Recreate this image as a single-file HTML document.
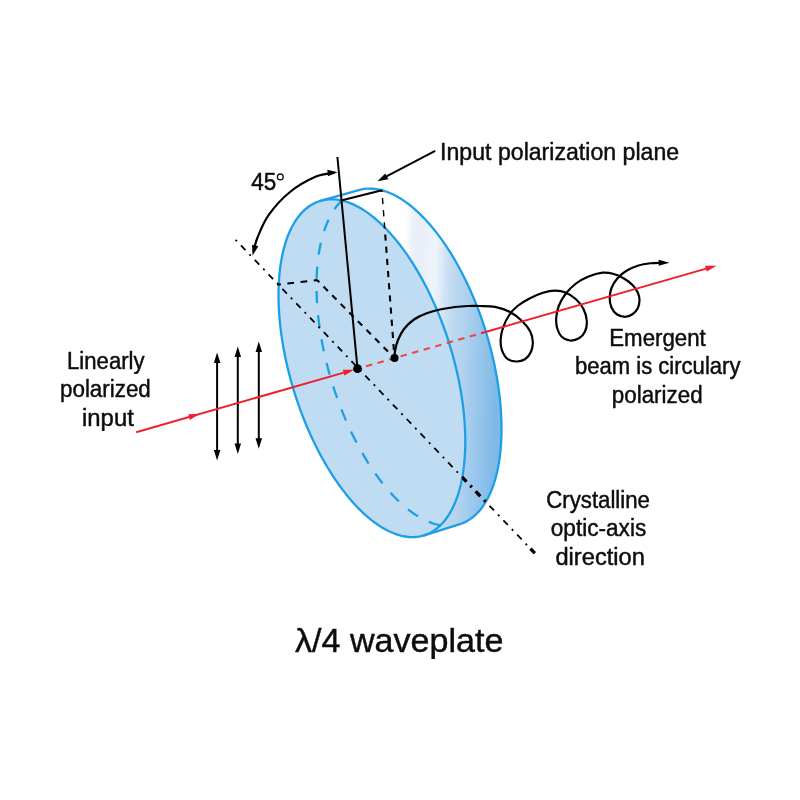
<!DOCTYPE html>
<html><head><meta charset="utf-8"><title>Quarter waveplate</title>
<style>html,body{margin:0;padding:0;background:#fff;}body{width:800px;height:800px;overflow:hidden;font-family:"Liberation Sans",sans-serif;}svg{display:block;} text{will-change:transform;}</style></head>
<body>
<svg width="800" height="800" viewBox="0 0 800 800">
<defs>
<linearGradient id="rim" gradientUnits="userSpaceOnUse" x1="340" y1="250" x2="500" y2="254.8"><stop offset="0" stop-color="#ffffff"/><stop offset="0.4062" stop-color="#ffffff"/><stop offset="0.4500" stop-color="#ebf1fa"/><stop offset="0.5000" stop-color="#e8eef9"/><stop offset="0.5500" stop-color="#ecf2fb"/><stop offset="0.5938" stop-color="#eef4fb"/><stop offset="0.6250" stop-color="#e3eef9"/><stop offset="0.6625" stop-color="#cfe2f5"/><stop offset="0.7312" stop-color="#bad7f0"/><stop offset="0.7812" stop-color="#b2d3ef"/><stop offset="0.8750" stop-color="#9cc8ec"/><stop offset="1.0000" stop-color="#7fb9e7"/></linearGradient>
<clipPath id="faceclip"><path d="M319.83,201.02 L322.57,200.28 L325.36,199.74 L328.22,199.41 L331.13,199.29 L334.08,199.37 L337.09,199.65 L340.13,200.15 L343.22,200.84 L346.34,201.74 L349.49,202.84 L352.66,204.15 L355.86,205.65 L359.08,207.36 L362.32,209.25 L365.57,211.35 L368.82,213.63 L372.08,216.10 L375.34,218.76 L378.60,221.60 L381.84,224.61 L385.08,227.80 L388.30,231.17 L391.50,234.70 L394.67,238.39 L397.82,242.24 L400.93,246.25 L404.01,250.40 L407.06,254.70 L410.05,259.13 L413.00,263.70 L415.91,268.39 L418.75,273.21 L421.55,278.14 L424.28,283.19 L426.94,288.33 L429.54,293.57 L432.07,298.91 L434.53,304.33 L436.91,309.82 L439.21,315.39 L441.43,321.02 L443.56,326.71 L445.61,332.45 L447.56,338.23 L449.43,344.05 L451.20,349.90 L452.87,355.77 L454.44,361.66 L455.92,367.55 L457.29,373.45 L458.56,379.34 L459.72,385.21 L460.78,391.07 L461.72,396.90 L462.56,402.69 L463.29,408.44 L463.90,414.14 L464.41,419.78 L464.80,425.37 L465.08,430.88 L465.24,436.31 L465.29,441.67 L465.23,446.93 L465.05,452.10 L464.76,457.16 L464.36,462.12 L463.84,466.96 L463.21,471.68 L462.47,476.28 L461.62,480.74 L460.66,485.07 L459.59,489.26 L458.42,493.29 L457.14,497.18 L455.76,500.91 L454.27,504.47 L452.69,507.87 L451.00,511.10 L449.22,514.16 L447.35,517.04 L445.38,519.73 L443.32,522.25 L441.18,524.57 L438.95,526.70 L436.64,528.65 L434.25,530.39 L431.79,531.94 L429.25,533.29 L426.64,534.43 L423.97,535.38 L421.23,536.12 L418.44,536.66 L415.58,536.99 L412.67,537.11 L409.72,537.03 L406.71,536.75 L403.67,536.25 L400.58,535.56 L397.46,534.66 L394.31,533.56 L391.14,532.25 L387.94,530.75 L384.72,529.04 L381.48,527.15 L378.23,525.05 L374.98,522.77 L371.72,520.30 L368.46,517.64 L365.20,514.80 L361.96,511.79 L358.72,508.60 L355.50,505.23 L352.30,501.70 L349.13,498.01 L345.98,494.16 L342.87,490.15 L339.79,486.00 L336.74,481.70 L333.75,477.27 L330.80,472.70 L327.89,468.01 L325.05,463.19 L322.25,458.26 L319.52,453.21 L316.86,448.07 L314.26,442.83 L311.73,437.49 L309.27,432.07 L306.89,426.58 L304.59,421.01 L302.37,415.38 L300.24,409.69 L298.19,403.95 L296.24,398.17 L294.37,392.35 L292.60,386.50 L290.93,380.63 L289.36,374.74 L287.88,368.85 L286.51,362.95 L285.24,357.06 L284.08,351.19 L283.02,345.33 L282.08,339.50 L281.24,333.71 L280.51,327.96 L279.90,322.26 L279.39,316.62 L279.00,311.03 L278.72,305.52 L278.56,300.09 L278.51,294.73 L278.57,289.47 L278.75,284.30 L279.04,279.24 L279.44,274.28 L279.96,269.44 L280.59,264.72 L281.33,260.12 L282.18,255.66 L283.14,251.33 L284.21,247.14 L285.38,243.11 L286.66,239.22 L288.04,235.49 L289.53,231.93 L291.11,228.53 L292.80,225.30 L294.58,222.24 L296.45,219.36 L298.42,216.67 L300.48,214.15 L302.62,211.83 L304.85,209.70 L307.16,207.75 L309.55,206.01 L312.01,204.46 L314.55,203.11 L317.16,201.97 L319.83,201.02 Z"/></clipPath>
<clipPath id="rimclip"><path d="M358.83,190.17 L361.58,189.47 L364.38,188.98 L367.23,188.70 L370.14,188.62 L373.09,188.74 L376.09,189.07 L379.12,189.61 L382.20,190.35 L385.30,191.29 L388.44,192.44 L391.60,193.78 L394.78,195.33 L397.98,197.07 L401.19,199.01 L404.41,201.14 L407.64,203.46 L410.87,205.97 L414.09,208.67 L417.31,211.54 L420.53,214.59 L423.72,217.82 L426.90,221.21 L430.06,224.78 L433.19,228.50 L436.29,232.38 L439.36,236.41 L442.39,240.59 L445.38,244.91 L448.32,249.37 L451.22,253.96 L454.07,258.68 L456.86,263.51 L459.59,268.46 L462.26,273.52 L464.87,278.68 L467.41,283.94 L469.88,289.28 L472.27,294.71 L474.59,300.22 L476.82,305.79 L478.98,311.43 L481.05,317.12 L483.03,322.86 L484.92,328.65 L486.72,334.47 L488.42,340.31 L490.03,346.18 L491.54,352.06 L492.94,357.95 L494.25,363.84 L495.45,369.71 L496.55,375.58 L497.53,381.42 L498.42,387.23 L499.19,393.01 L499.85,398.74 L500.40,404.42 L500.84,410.04 L501.17,415.60 L501.39,421.09 L501.49,426.50 L501.48,431.83 L501.36,437.07 L501.13,442.20 L500.78,447.24 L500.32,452.16 L499.75,456.97 L499.07,461.66 L498.28,466.23 L497.39,470.65 L496.38,474.94 L495.27,479.09 L494.05,483.09 L492.73,486.94 L491.30,490.62 L489.78,494.15 L488.16,497.51 L486.44,500.70 L484.63,503.71 L482.72,506.54 L480.73,509.20 L478.65,511.66 L476.48,513.94 L474.23,516.03 L471.90,517.93 L469.50,519.63 L467.02,521.13 L464.47,522.43 L461.85,523.53 L459.17,524.43 L423.39,535.56 L426.07,534.65 L428.70,533.55 L431.25,532.25 L433.73,530.74 L436.13,529.04 L438.46,527.14 L440.71,525.05 L442.87,522.76 L444.94,520.29 L446.93,517.63 L448.83,514.79 L450.63,511.78 L452.33,508.58 L453.94,505.22 L455.45,501.69 L456.85,497.99 L458.15,494.14 L459.35,490.14 L460.44,485.98 L461.42,481.69 L462.30,477.25 L463.06,472.68 L463.71,467.99 L464.25,463.17 L464.68,458.24 L465.00,453.20 L465.20,448.05 L465.29,442.81 L465.26,437.47 L465.12,432.05 L464.87,426.56 L464.50,420.99 L464.02,415.36 L463.43,409.67 L462.73,403.93 L461.91,398.14 L460.99,392.32 L459.96,386.48 L458.82,380.60 L457.57,374.72 L456.22,368.82 L454.77,362.93 L453.22,357.04 L451.56,351.16 L449.82,345.31 L447.97,339.48 L446.03,333.69 L444.01,327.94 L441.89,322.24 L439.69,316.60 L437.41,311.01 L435.04,305.50 L432.61,300.07 L430.09,294.71 L427.51,289.45 L424.85,284.28 L422.14,279.22 L419.36,274.26 L416.52,269.42 L413.63,264.70 L410.69,260.10 L407.70,255.64 L404.67,251.31 L401.60,247.13 L398.49,243.09 L395.35,239.21 L392.18,235.48 L388.99,231.91 L385.77,228.51 L382.54,225.28 L379.30,222.23 L376.04,219.35 L372.78,216.66 L369.53,214.14 L366.27,211.82 L363.02,209.69 L359.78,207.75 L356.56,206.00 L353.35,204.46 L350.17,203.11 L347.01,201.96 L343.88,201.02 L340.79,200.28 L337.74,199.74 L334.72,199.41 L331.76,199.29 L328.84,199.37 L325.97,199.66 L323.16,200.15 L320.41,200.84 Z"/></clipPath>
</defs>
<rect width="800" height="800" fill="#fff"/>
<path d="M358.83,190.17 L361.58,189.47 L364.38,188.98 L367.23,188.70 L370.14,188.62 L373.09,188.74 L376.09,189.07 L379.12,189.61 L382.20,190.35 L385.30,191.29 L388.44,192.44 L391.60,193.78 L394.78,195.33 L397.98,197.07 L401.19,199.01 L404.41,201.14 L407.64,203.46 L410.87,205.97 L414.09,208.67 L417.31,211.54 L420.53,214.59 L423.72,217.82 L426.90,221.21 L430.06,224.78 L433.19,228.50 L436.29,232.38 L439.36,236.41 L442.39,240.59 L445.38,244.91 L448.32,249.37 L451.22,253.96 L454.07,258.68 L456.86,263.51 L459.59,268.46 L462.26,273.52 L464.87,278.68 L467.41,283.94 L469.88,289.28 L472.27,294.71 L474.59,300.22 L476.82,305.79 L478.98,311.43 L481.05,317.12 L483.03,322.86 L484.92,328.65 L486.72,334.47 L488.42,340.31 L490.03,346.18 L491.54,352.06 L492.94,357.95 L494.25,363.84 L495.45,369.71 L496.55,375.58 L497.53,381.42 L498.42,387.23 L499.19,393.01 L499.85,398.74 L500.40,404.42 L500.84,410.04 L501.17,415.60 L501.39,421.09 L501.49,426.50 L501.48,431.83 L501.36,437.07 L501.13,442.20 L500.78,447.24 L500.32,452.16 L499.75,456.97 L499.07,461.66 L498.28,466.23 L497.39,470.65 L496.38,474.94 L495.27,479.09 L494.05,483.09 L492.73,486.94 L491.30,490.62 L489.78,494.15 L488.16,497.51 L486.44,500.70 L484.63,503.71 L482.72,506.54 L480.73,509.20 L478.65,511.66 L476.48,513.94 L474.23,516.03 L471.90,517.93 L469.50,519.63 L467.02,521.13 L464.47,522.43 L461.85,523.53 L459.17,524.43 L423.39,535.56 L426.07,534.65 L428.70,533.55 L431.25,532.25 L433.73,530.74 L436.13,529.04 L438.46,527.14 L440.71,525.05 L442.87,522.76 L444.94,520.29 L446.93,517.63 L448.83,514.79 L450.63,511.78 L452.33,508.58 L453.94,505.22 L455.45,501.69 L456.85,497.99 L458.15,494.14 L459.35,490.14 L460.44,485.98 L461.42,481.69 L462.30,477.25 L463.06,472.68 L463.71,467.99 L464.25,463.17 L464.68,458.24 L465.00,453.20 L465.20,448.05 L465.29,442.81 L465.26,437.47 L465.12,432.05 L464.87,426.56 L464.50,420.99 L464.02,415.36 L463.43,409.67 L462.73,403.93 L461.91,398.14 L460.99,392.32 L459.96,386.48 L458.82,380.60 L457.57,374.72 L456.22,368.82 L454.77,362.93 L453.22,357.04 L451.56,351.16 L449.82,345.31 L447.97,339.48 L446.03,333.69 L444.01,327.94 L441.89,322.24 L439.69,316.60 L437.41,311.01 L435.04,305.50 L432.61,300.07 L430.09,294.71 L427.51,289.45 L424.85,284.28 L422.14,279.22 L419.36,274.26 L416.52,269.42 L413.63,264.70 L410.69,260.10 L407.70,255.64 L404.67,251.31 L401.60,247.13 L398.49,243.09 L395.35,239.21 L392.18,235.48 L388.99,231.91 L385.77,228.51 L382.54,225.28 L379.30,222.23 L376.04,219.35 L372.78,216.66 L369.53,214.14 L366.27,211.82 L363.02,209.69 L359.78,207.75 L356.56,206.00 L353.35,204.46 L350.17,203.11 L347.01,201.96 L343.88,201.02 L340.79,200.28 L337.74,199.74 L334.72,199.41 L331.76,199.29 L328.84,199.37 L325.97,199.66 L323.16,200.15 L320.41,200.84 Z" fill="url(#rim)" stroke="none"/>
<path d="M319.83,201.02 L322.57,200.28 L325.36,199.74 L328.22,199.41 L331.13,199.29 L334.08,199.37 L337.09,199.65 L340.13,200.15 L343.22,200.84 L346.34,201.74 L349.49,202.84 L352.66,204.15 L355.86,205.65 L359.08,207.36 L362.32,209.25 L365.57,211.35 L368.82,213.63 L372.08,216.10 L375.34,218.76 L378.60,221.60 L381.84,224.61 L385.08,227.80 L388.30,231.17 L391.50,234.70 L394.67,238.39 L397.82,242.24 L400.93,246.25 L404.01,250.40 L407.06,254.70 L410.05,259.13 L413.00,263.70 L415.91,268.39 L418.75,273.21 L421.55,278.14 L424.28,283.19 L426.94,288.33 L429.54,293.57 L432.07,298.91 L434.53,304.33 L436.91,309.82 L439.21,315.39 L441.43,321.02 L443.56,326.71 L445.61,332.45 L447.56,338.23 L449.43,344.05 L451.20,349.90 L452.87,355.77 L454.44,361.66 L455.92,367.55 L457.29,373.45 L458.56,379.34 L459.72,385.21 L460.78,391.07 L461.72,396.90 L462.56,402.69 L463.29,408.44 L463.90,414.14 L464.41,419.78 L464.80,425.37 L465.08,430.88 L465.24,436.31 L465.29,441.67 L465.23,446.93 L465.05,452.10 L464.76,457.16 L464.36,462.12 L463.84,466.96 L463.21,471.68 L462.47,476.28 L461.62,480.74 L460.66,485.07 L459.59,489.26 L458.42,493.29 L457.14,497.18 L455.76,500.91 L454.27,504.47 L452.69,507.87 L451.00,511.10 L449.22,514.16 L447.35,517.04 L445.38,519.73 L443.32,522.25 L441.18,524.57 L438.95,526.70 L436.64,528.65 L434.25,530.39 L431.79,531.94 L429.25,533.29 L426.64,534.43 L423.97,535.38 L421.23,536.12 L418.44,536.66 L415.58,536.99 L412.67,537.11 L409.72,537.03 L406.71,536.75 L403.67,536.25 L400.58,535.56 L397.46,534.66 L394.31,533.56 L391.14,532.25 L387.94,530.75 L384.72,529.04 L381.48,527.15 L378.23,525.05 L374.98,522.77 L371.72,520.30 L368.46,517.64 L365.20,514.80 L361.96,511.79 L358.72,508.60 L355.50,505.23 L352.30,501.70 L349.13,498.01 L345.98,494.16 L342.87,490.15 L339.79,486.00 L336.74,481.70 L333.75,477.27 L330.80,472.70 L327.89,468.01 L325.05,463.19 L322.25,458.26 L319.52,453.21 L316.86,448.07 L314.26,442.83 L311.73,437.49 L309.27,432.07 L306.89,426.58 L304.59,421.01 L302.37,415.38 L300.24,409.69 L298.19,403.95 L296.24,398.17 L294.37,392.35 L292.60,386.50 L290.93,380.63 L289.36,374.74 L287.88,368.85 L286.51,362.95 L285.24,357.06 L284.08,351.19 L283.02,345.33 L282.08,339.50 L281.24,333.71 L280.51,327.96 L279.90,322.26 L279.39,316.62 L279.00,311.03 L278.72,305.52 L278.56,300.09 L278.51,294.73 L278.57,289.47 L278.75,284.30 L279.04,279.24 L279.44,274.28 L279.96,269.44 L280.59,264.72 L281.33,260.12 L282.18,255.66 L283.14,251.33 L284.21,247.14 L285.38,243.11 L286.66,239.22 L288.04,235.49 L289.53,231.93 L291.11,228.53 L292.80,225.30 L294.58,222.24 L296.45,219.36 L298.42,216.67 L300.48,214.15 L302.62,211.83 L304.85,209.70 L307.16,207.75 L309.55,206.01 L312.01,204.46 L314.55,203.11 L317.16,201.97 L319.83,201.02 Z" fill="#bfdcf3" stroke="none"/>
<g fill="none" stroke="#1d9fe8" stroke-width="2.3" stroke-linejoin="round" stroke-linecap="butt">
<path d="M358.83,190.17 L356.15,191.07 L353.53,192.17 L350.98,193.47 L348.50,194.97 L346.10,196.67 L343.77,198.57 L341.52,200.66 L339.35,202.94 L337.27,205.40 L335.28,208.06 L333.37,210.89 L331.56,213.90 L329.84,217.09 L328.22,220.45 L326.70,223.98 L325.27,227.66 L323.95,231.51 L322.73,235.51 L321.62,239.66 L320.61,243.95 L319.72,248.37 L318.93,252.94 L318.25,257.63 L317.68,262.44 L317.22,267.36 L316.87,272.40 L316.64,277.53 L316.52,282.77 L316.51,288.10 L316.61,293.51 L316.83,299.00 L317.16,304.56 L317.60,310.18 L318.15,315.86 L318.81,321.59 L319.58,327.37 L320.47,333.18 L321.45,339.02 L322.55,344.89 L323.75,350.76 L325.06,356.65 L326.46,362.54 L327.97,368.42 L329.58,374.29 L331.28,380.13 L333.08,385.95 L334.97,391.74 L336.95,397.48 L339.02,403.17 L341.18,408.81 L343.41,414.38 L345.73,419.89 L348.12,425.32 L350.59,430.66 L353.13,435.92 L355.74,441.08 L358.41,446.14 L361.14,451.09 L363.93,455.92 L366.78,460.64 L369.68,465.23 L372.62,469.69 L375.61,474.01 L378.64,478.19 L381.71,482.22 L384.81,486.10 L387.94,489.82 L391.10,493.39 L394.28,496.78 L397.47,500.01 L400.69,503.06 L403.91,505.93 L407.13,508.63 L410.36,511.14 L413.59,513.46 L416.81,515.59 L420.02,517.53 L423.22,519.27 L426.40,520.82 L429.56,522.16 L432.70,523.31 L435.80,524.25 L438.88,524.99 L441.91,525.53 L444.91,525.86 L447.86,525.98 L450.77,525.90 L453.62,525.62 L456.42,525.13 L459.17,524.43" stroke-dasharray="12.15 12.15" stroke-dashoffset="5" clip-path="url(#faceclip)"/>
<path d="M320.41,200.84 L358.83,190.17 L361.58,189.47 L364.38,188.98 L367.23,188.70 L370.14,188.62 L373.09,188.74 L376.09,189.07 L379.12,189.61 L382.20,190.35 L385.30,191.29 L388.44,192.44 L391.60,193.78 L394.78,195.33 L397.98,197.07 L401.19,199.01 L404.41,201.14 L407.64,203.46 L410.87,205.97 L414.09,208.67 L417.31,211.54 L420.53,214.59 L423.72,217.82 L426.90,221.21 L430.06,224.78 L433.19,228.50 L436.29,232.38 L439.36,236.41 L442.39,240.59 L445.38,244.91 L448.32,249.37 L451.22,253.96 L454.07,258.68 L456.86,263.51 L459.59,268.46 L462.26,273.52 L464.87,278.68 L467.41,283.94 L469.88,289.28 L472.27,294.71 L474.59,300.22 L476.82,305.79 L478.98,311.43 L481.05,317.12 L483.03,322.86 L484.92,328.65 L486.72,334.47 L488.42,340.31 L490.03,346.18 L491.54,352.06 L492.94,357.95 L494.25,363.84 L495.45,369.71 L496.55,375.58 L497.53,381.42 L498.42,387.23 L499.19,393.01 L499.85,398.74 L500.40,404.42 L500.84,410.04 L501.17,415.60 L501.39,421.09 L501.49,426.50 L501.48,431.83 L501.36,437.07 L501.13,442.20 L500.78,447.24 L500.32,452.16 L499.75,456.97 L499.07,461.66 L498.28,466.23 L497.39,470.65 L496.38,474.94 L495.27,479.09 L494.05,483.09 L492.73,486.94 L491.30,490.62 L489.78,494.15 L488.16,497.51 L486.44,500.70 L484.63,503.71 L482.72,506.54 L480.73,509.20 L478.65,511.66 L476.48,513.94 L474.23,516.03 L471.90,517.93 L469.50,519.63 L467.02,521.13 L464.47,522.43 L461.85,523.53 L459.17,524.43 L423.39,535.56"/>
<path d="M319.83,201.02 L322.57,200.28 L325.36,199.74 L328.22,199.41 L331.13,199.29 L334.08,199.37 L337.09,199.65 L340.13,200.15 L343.22,200.84 L346.34,201.74 L349.49,202.84 L352.66,204.15 L355.86,205.65 L359.08,207.36 L362.32,209.25 L365.57,211.35 L368.82,213.63 L372.08,216.10 L375.34,218.76 L378.60,221.60 L381.84,224.61 L385.08,227.80 L388.30,231.17 L391.50,234.70 L394.67,238.39 L397.82,242.24 L400.93,246.25 L404.01,250.40 L407.06,254.70 L410.05,259.13 L413.00,263.70 L415.91,268.39 L418.75,273.21 L421.55,278.14 L424.28,283.19 L426.94,288.33 L429.54,293.57 L432.07,298.91 L434.53,304.33 L436.91,309.82 L439.21,315.39 L441.43,321.02 L443.56,326.71 L445.61,332.45 L447.56,338.23 L449.43,344.05 L451.20,349.90 L452.87,355.77 L454.44,361.66 L455.92,367.55 L457.29,373.45 L458.56,379.34 L459.72,385.21 L460.78,391.07 L461.72,396.90 L462.56,402.69 L463.29,408.44 L463.90,414.14 L464.41,419.78 L464.80,425.37 L465.08,430.88 L465.24,436.31 L465.29,441.67 L465.23,446.93 L465.05,452.10 L464.76,457.16 L464.36,462.12 L463.84,466.96 L463.21,471.68 L462.47,476.28 L461.62,480.74 L460.66,485.07 L459.59,489.26 L458.42,493.29 L457.14,497.18 L455.76,500.91 L454.27,504.47 L452.69,507.87 L451.00,511.10 L449.22,514.16 L447.35,517.04 L445.38,519.73 L443.32,522.25 L441.18,524.57 L438.95,526.70 L436.64,528.65 L434.25,530.39 L431.79,531.94 L429.25,533.29 L426.64,534.43 L423.97,535.38 L421.23,536.12 L418.44,536.66 L415.58,536.99 L412.67,537.11 L409.72,537.03 L406.71,536.75 L403.67,536.25 L400.58,535.56 L397.46,534.66 L394.31,533.56 L391.14,532.25 L387.94,530.75 L384.72,529.04 L381.48,527.15 L378.23,525.05 L374.98,522.77 L371.72,520.30 L368.46,517.64 L365.20,514.80 L361.96,511.79 L358.72,508.60 L355.50,505.23 L352.30,501.70 L349.13,498.01 L345.98,494.16 L342.87,490.15 L339.79,486.00 L336.74,481.70 L333.75,477.27 L330.80,472.70 L327.89,468.01 L325.05,463.19 L322.25,458.26 L319.52,453.21 L316.86,448.07 L314.26,442.83 L311.73,437.49 L309.27,432.07 L306.89,426.58 L304.59,421.01 L302.37,415.38 L300.24,409.69 L298.19,403.95 L296.24,398.17 L294.37,392.35 L292.60,386.50 L290.93,380.63 L289.36,374.74 L287.88,368.85 L286.51,362.95 L285.24,357.06 L284.08,351.19 L283.02,345.33 L282.08,339.50 L281.24,333.71 L280.51,327.96 L279.90,322.26 L279.39,316.62 L279.00,311.03 L278.72,305.52 L278.56,300.09 L278.51,294.73 L278.57,289.47 L278.75,284.30 L279.04,279.24 L279.44,274.28 L279.96,269.44 L280.59,264.72 L281.33,260.12 L282.18,255.66 L283.14,251.33 L284.21,247.14 L285.38,243.11 L286.66,239.22 L288.04,235.49 L289.53,231.93 L291.11,228.53 L292.80,225.30 L294.58,222.24 L296.45,219.36 L298.42,216.67 L300.48,214.15 L302.62,211.83 L304.85,209.70 L307.16,207.75 L309.55,206.01 L312.01,204.46 L314.55,203.11 L317.16,201.97 L319.83,201.02 Z"/>
</g>
<g fill="none" stroke="#000" stroke-width="2">
<path d="M235.60,239.80 L534.80,553.20" stroke-dasharray="2 5.75 6.5 5.75" stroke-width="1.8"/>
<path d="M235.60,239.80 L534.80,553.20" stroke-dasharray="2 5.75 6.5 5.75" stroke-width="3.3" clip-path="url(#rimclip)"/>
<path d="M530.4,548.6 L534.8,553.2" stroke-width="3.3"/>
<path d="M277.5,284.6 L317.1,280.1" stroke-dasharray="6.7 6.58" stroke-dashoffset="3.35" stroke-width="2.1"/>
<path d="M317.1,280.1 L394.50,358.09" stroke-dasharray="6.15 6.04" stroke-dashoffset="3.07" stroke-width="2.1"/>
<path d="M381.9,190.3 L394.50,358.09" stroke-dasharray="6.2 6" stroke-dashoffset="4.5" stroke-width="2.1" clip-path="url(#faceclip)"/>
<path d="M381.9,190.3 L394.50,358.09" stroke-dasharray="6.2 6" stroke-dashoffset="4.5" stroke-width="1.4" clip-path="url(#rimclip)"/>
<path d="M337.40,157.00 L357.50,368.70"/>
<path d="M342.00,200.30 L382.00,190.20"/>
<path d="M334.50,172.60 C331.42,173.27 323.42,173.37 316.00,176.60 C308.58,179.83 297.85,185.65 290.00,192.00 C282.15,198.35 274.32,207.12 268.90,214.70 C263.48,222.28 260.05,231.37 257.50,237.50 C254.95,243.63 254.25,249.17 253.60,251.50" stroke-width="2.2"/>
<path d="M394.40,358.00 C394.53,356.67 394.60,353.00 395.20,350.00 C395.80,347.00 396.53,343.50 398.00,340.00 C399.47,336.50 401.33,332.42 404.00,329.00 C406.67,325.58 410.33,322.08 414.00,319.50 C417.67,316.92 421.67,315.17 426.00,313.50 C430.33,311.83 435.17,310.58 440.00,309.50 C444.83,308.42 450.33,307.58 455.00,307.00 C459.67,306.42 463.83,306.17 468.00,306.00 C472.17,305.83 475.50,305.85 480.00,306.00 C484.50,306.15 490.00,305.90 495.00,306.90 C500.00,307.90 505.50,309.65 510.00,312.00 C514.50,314.35 518.62,317.75 522.00,321.00 C525.38,324.25 528.45,328.00 530.25,331.50 C532.05,335.00 532.67,338.62 532.80,342.00 C532.92,345.38 532.30,348.88 531.00,351.75 C529.70,354.62 527.50,357.62 525.00,359.25 C522.50,360.88 519.00,361.62 516.00,361.50 C513.00,361.38 509.38,360.50 507.00,358.50 C504.62,356.50 502.80,352.75 501.75,349.50 C500.70,346.25 500.45,342.75 500.70,339.00 C500.95,335.25 501.82,331.00 503.25,327.00 C504.68,323.00 506.88,318.50 509.25,315.00 C511.62,311.50 514.12,308.75 517.50,306.00 C520.88,303.25 525.25,300.70 529.50,298.50 C533.75,296.30 538.75,294.10 543.00,292.80 C547.25,291.50 551.25,290.75 555.00,290.70 C558.75,290.65 562.00,291.07 565.50,292.50 C569.00,293.93 573.00,296.50 576.00,299.25 C579.00,302.00 581.70,305.38 583.50,309.00 C585.30,312.62 586.55,317.25 586.80,321.00 C587.05,324.75 586.30,328.62 585.00,331.50 C583.70,334.38 581.50,336.75 579.00,338.25 C576.50,339.75 572.88,340.75 570.00,340.50 C567.12,340.25 563.88,338.75 561.75,336.75 C559.62,334.75 558.17,331.62 557.25,328.50 C556.33,325.38 555.95,321.75 556.20,318.00 C556.45,314.25 557.20,310.00 558.75,306.00 C560.30,302.00 562.62,297.75 565.50,294.00 C568.38,290.25 572.25,286.38 576.00,283.50 C579.75,280.62 583.58,278.55 588.00,276.75 C592.42,274.95 598.33,273.20 602.50,272.70 C606.67,272.20 609.50,272.82 613.00,273.75 C616.50,274.68 620.25,276.38 623.50,278.25 C626.75,280.12 630.12,282.62 632.50,285.00 C634.88,287.38 636.58,290.00 637.75,292.50 C638.92,295.00 639.50,297.38 639.50,300.00 C639.50,302.62 638.92,305.88 637.75,308.25 C636.58,310.62 634.62,312.82 632.50,314.25 C630.38,315.68 627.62,316.80 625.00,316.80 C622.38,316.80 619.00,315.80 616.75,314.25 C614.50,312.70 612.67,310.12 611.50,307.50 C610.33,304.88 609.70,301.75 609.70,298.50 C609.70,295.25 610.20,291.38 611.50,288.00 C612.80,284.62 615.00,281.12 617.50,278.25 C620.00,275.38 623.00,272.88 626.50,270.75 C630.00,268.62 634.50,266.75 638.50,265.50 C642.50,264.25 646.75,263.70 650.50,263.25 C654.25,262.80 659.25,262.88 661.00,262.80" stroke-width="2.2"/>
<path d="M435.20,150.90 L385.00,177.20"/>
<path d="M217.10,360.40 L217.10,452.50"/>
<path d="M237.80,354.60 L237.80,446.00"/>
<path d="M258.80,349.40 L258.80,440.70"/>
</g>
<polygon points="217.10,352.40 220.35,362.90 213.85,362.90" fill="#000"/>
<polygon points="217.10,460.50 213.85,450.00 220.35,450.00" fill="#000"/>
<polygon points="237.80,346.60 241.05,357.10 234.55,357.10" fill="#000"/>
<polygon points="237.80,454.00 234.55,443.50 241.05,443.50" fill="#000"/>
<polygon points="258.80,341.40 262.05,351.90 255.55,351.90" fill="#000"/>
<polygon points="258.80,448.70 255.55,438.20 262.05,438.20" fill="#000"/>
<polygon points="337.60,172.20 327.89,176.24 327.37,169.76" fill="#000"/>
<polygon points="252.60,255.60 251.99,244.63 258.30,246.20" fill="#000"/>
<polygon points="377.50,181.20 385.29,173.45 388.31,179.21" fill="#000"/>
<polygon points="669.50,262.80 658.70,265.80 658.70,259.80" fill="#000"/>
<g fill="none" stroke="#ee202c" stroke-width="2">
<path d="M136.20,432.20 L350.00,370.86"/>
<path d="M357.50,368.70 L481.00,333.27" stroke-dasharray="6.5 5.5" stroke-dashoffset="3.2" stroke="#ee4638"/>
<path d="M481.00,333.27 L708.00,268.14"/>
</g>
<polygon points="199.20,414.12 189.93,419.90 188.28,414.14" fill="#ee202c"/>
<polygon points="354.20,369.65 344.45,375.57 342.80,369.80" fill="#ee202c"/>
<polygon points="716.50,265.70 706.75,271.62 705.10,265.85" fill="#ee202c"/>
<circle cx="357.50" cy="368.70" r="4.4" fill="#000"/>
<circle cx="394.50" cy="358.09" r="4" fill="#000"/>
<g font-family="'Liberation Sans', sans-serif" fill="#0d0d0d" stroke="#0d0d0d" stroke-width="0.45" stroke-linejoin="round">
<text x="559.60" y="159.90" font-size="23.00" text-anchor="middle" textLength="239.0" lengthAdjust="spacingAndGlyphs">Input polarization plane</text>
<text x="657.50" y="346.00" font-size="23.00" text-anchor="middle" textLength="96.5" lengthAdjust="spacingAndGlyphs">Emergent</text>
<text x="657.70" y="374.30" font-size="23.00" text-anchor="middle" textLength="165.5" lengthAdjust="spacingAndGlyphs">beam is circulary</text>
<text x="657.20" y="402.70" font-size="23.00" text-anchor="middle" textLength="90.8" lengthAdjust="spacingAndGlyphs">polarized</text>
<text x="105.80" y="368.50" font-size="23.00" text-anchor="middle" textLength="77.5" lengthAdjust="spacingAndGlyphs">Linearly</text>
<text x="105.40" y="396.80" font-size="23.00" text-anchor="middle" textLength="90.8" lengthAdjust="spacingAndGlyphs">polarized</text>
<text x="107.90" y="425.50" font-size="23.00" text-anchor="middle" textLength="51.8" lengthAdjust="spacingAndGlyphs">input</text>
<text x="598.10" y="508.00" font-size="23.00" text-anchor="middle" textLength="103.8" lengthAdjust="spacingAndGlyphs">Crystalline</text>
<text x="598.50" y="536.30" font-size="23.00" text-anchor="middle" textLength="95.5" lengthAdjust="spacingAndGlyphs">optic-axis</text>
<text x="600.20" y="564.80" font-size="23.00" text-anchor="middle" textLength="89.5" lengthAdjust="spacingAndGlyphs">direction</text>
<text x="399.20" y="651.50" font-size="34.00" text-anchor="middle" textLength="208.5" lengthAdjust="spacingAndGlyphs">λ/4 waveplate</text>
<text x="251.3" y="189.6" font-size="23" textLength="25" lengthAdjust="spacingAndGlyphs">45</text>
<circle cx="280.3" cy="176.9" r="2.9" fill="none" stroke="#111" stroke-width="1.3"/>
</g>
</svg>
</body></html>
